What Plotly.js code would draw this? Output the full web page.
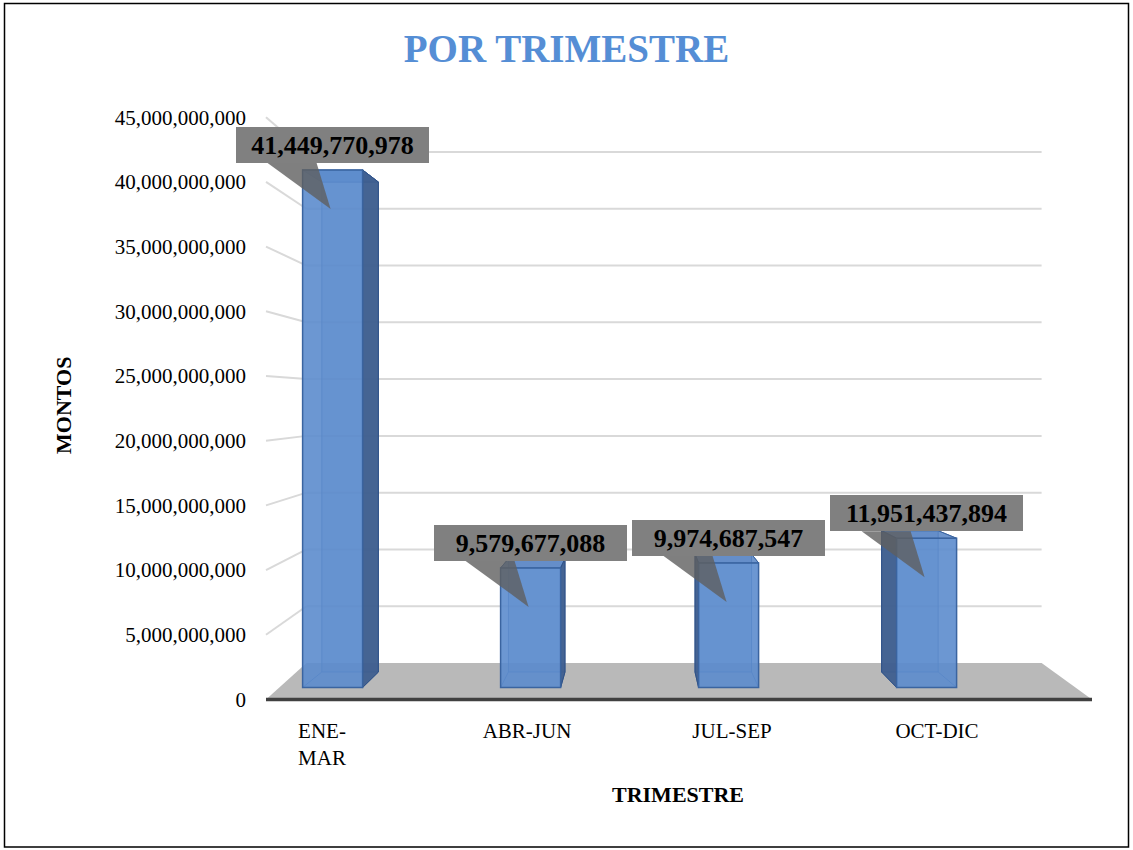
<!DOCTYPE html>
<html>
<head>
<meta charset="utf-8">
<script src="https://cdn.plot.ly/plotly-3.0.1.min.js"></script>
<style>html,body{margin:0;padding:0;background:#fff;}#chart{width:1133px;height:850px;}</style>
</head>
<body>
<div id="chart"></div>
<script>
// ---- data ----
const categories = ['ENE-MAR', 'ABR-JUN', 'JUL-SEP', 'OCT-DIC'];
const tickLabels = ['ENE-<br>MAR', 'ABR-JUN', 'JUL-SEP', 'OCT-DIC'];
const montos = [41449770978, 9579677088, 9974687547, 11951437894];
const yTickVals = [0, 5e9, 10e9, 15e9, 20e9, 25e9, 30e9, 35e9, 40e9, 45e9];
const chartTitle = 'POR TRIMESTRE';
const xTitle = 'TRIMESTRE';
const yTitle = 'MONTOS';

// ---- 3D-look layout planes (pixel placement of each depth plane) ----
const W = 1133, H = 850;
const PLANES = {
  front:    {x0: 322,   kx: 205,    y0: 699.5, ky: 12.94e-9},
  barFront: {x0: 332.6, kx: 198,    y0: 687.5, ky: 12.485e-9},
  barBack:  {x0: 350.1, kx: 186.6,  y0: 672,   ky: 11.82e-9},
  wall:     {x0: 356.3, kx: 182.45, y0: 663,   ky: 11.356e-9}
};
const WIN = {L: 200, R: 1110, T: 90, B: 720};
const WIN2 = {L: 200, R: 1110, T: 90, B: 716};
function ranges(P, w) {
  return {x: [(w.L - P.x0) / P.kx, (w.R - P.x0) / P.kx],
          y: [(P.y0 - w.B) / P.ky, (P.y0 - w.T) / P.ky],
          dx: [w.L / W, w.R / W], dy: [1 - w.B / H, 1 - w.T / H]};
}
function pix(P, c, v) { return [P.x0 + P.kx * c, P.y0 - P.ky * v]; }
function toXY(p) { const B = PLANES.barFront; return [(p[0] - B.x0) / B.kx, (B.y0 - p[1]) / B.ky]; }
function pt(P, c, v) { return toXY(pix(P, c, v)); }
function path(pts) { return 'M ' + pts.map(p => p[0] + ',' + p[1]).join(' L ') + ' Z'; }

const r1 = ranges(PLANES.barFront, WIN);
const r2 = ranges(PLANES.front, WIN2);

const shapes = [];
const cL = (266 - PLANES.front.x0) / PLANES.front.kx;
const cR = (1092 - PLANES.front.x0) / PLANES.front.kx;
// floor
shapes.push({type: 'path', xref: 'x', yref: 'y', layer: 'below',
  path: path([pt(PLANES.front, cL, 0), pt(PLANES.front, cR, 0), pt(PLANES.wall, cR, 0), pt(PLANES.wall, cL, 0)]),
  fillcolor: '#b9b9b9', line: {width: 0}});
// gridlines (wall + side)
yTickVals.filter(v => v > 0).forEach(v => {
  const a = pt(PLANES.front, cL, v), b = pt(PLANES.wall, cL, v), c = pt(PLANES.wall, cR, v);
  shapes.push({type: 'line', xref: 'x', yref: 'y', layer: 'below', x0: a[0], y0: a[1], x1: b[0], y1: b[1], line: {color: '#d9d9d9', width: 2}});
  shapes.push({type: 'line', xref: 'x', yref: 'y', layer: 'below', x0: b[0], y0: b[1], x1: c[0], y1: c[1], line: {color: '#d9d9d9', width: 2}});
});
// front floor edge
{
  const a = pt(PLANES.front, cL, 0), b = pt(PLANES.front, cR, 0);
  shapes.push({type: 'line', xref: 'x', yref: 'y', layer: 'below', x0: a[0], y0: a[1], x1: b[0], y1: b[1], line: {color: '#404040', width: 3.5}});
}
// bar depth faces
const hw = 0.1515;
montos.forEach((v, i) => {
  const F = PLANES.barFront, Bk = PLANES.barBack;
  const fbl = pt(F, i - hw, 0), fbr = pt(F, i + hw, 0), ftl = pt(F, i - hw, v), ftr = pt(F, i + hw, v);
  const bbl = pt(Bk, i - hw, 0), bbr = pt(Bk, i + hw, 0), btl = pt(Bk, i - hw, v), btr = pt(Bk, i + hw, v);
  shapes.push({type: 'path', xref: 'x', yref: 'y', layer: 'below', path: path([bbl, bbr, btr, btl]),
    fillcolor: 'rgba(80,125,185,0.35)', line: {color: 'rgba(45,85,145,0.8)', width: 1}});
  [[fbl, bbl], [fbr, bbr], [ftl, btl], [ftr, btr]].forEach(e => {
    shapes.push({type: 'line', xref: 'x', yref: 'y', layer: 'below', x0: e[0][0], y0: e[0][1], x1: e[1][0], y1: e[1][1],
      line: {color: 'rgba(45,85,145,0.8)', width: 1}});
  });
  shapes.push({type: 'path', xref: 'x', yref: 'y', layer: 'below', path: path([ftl, ftr, btr, btl]),
    fillcolor: 'rgba(85,130,195,0.85)', line: {color: '#3a64a0', width: 1}});
  if (btr[0] > ftr[0]) {
    shapes.push({type: 'path', xref: 'x', yref: 'y', layer: 'below', path: path([ftr, btr, bbr, fbr]),
      fillcolor: 'rgba(62,94,142,0.95)', line: {color: '#2f5288', width: 1}});
  }
  if (btl[0] < ftl[0]) {
    shapes.push({type: 'path', xref: 'x', yref: 'y', layer: 'below', path: path([ftl, btl, bbl, fbl]),
      fillcolor: 'rgba(62,94,142,0.95)', line: {color: '#2f5288', width: 1}});
  }
});
// callout wedges
const kyB = PLANES.barFront.ky, kxB = PLANES.barFront.kx;
const calloutColor = 'rgba(95,95,95,0.8)';
montos.forEach((v, i) => {
  const baseY = v + 7 / kyB;
  shapes.push({type: 'path', xref: 'x', yref: 'y', layer: 'above',
    path: path([[i - 65 / kxB, baseY], [i - 16 / kxB, baseY], [i - 2 / kxB, v - 39 / kyB]]),
    fillcolor: calloutColor, line: {width: 0}});
});
// outer border
shapes.push({type: 'rect', xref: 'paper', yref: 'paper', x0: 4.5 / W, x1: 1128.5 / W, y0: 1 - 847 / H, y1: 1 - 3.5 / H,
  line: {color: '#000', width: 1.5}, layer: 'above'});

const annotations = montos.map((v, i) => ({
  xref: 'x', yref: 'y', x: i, y: v, yanchor: 'bottom', xanchor: 'center', yshift: 7,
  text: '<b>' + v.toLocaleString('en-US') + '</b>', showarrow: false,
  bgcolor: 'rgba(128,128,128,1)', borderwidth: 0, borderpad: 2, width: 189, height: 32,
  font: {family: 'Liberation Serif', size: 26, color: '#000'}
}));
annotations.push({xref: 'paper', yref: 'paper', x: 63 / W, y: 1 - 406 / H, xanchor: 'center', yanchor: 'middle',
  textangle: -90, showarrow: false,
  text: '<b>' + yTitle + '</b>', font: {family: 'Liberation Serif', size: 22, color: '#000'}});
annotations.push({xref: 'paper', yref: 'paper', x: 678 / W, y: 1 - 794 / H, xanchor: 'center', yanchor: 'middle',
  showarrow: false,
  text: '<b>' + xTitle + '</b>', font: {family: 'Liberation Serif', size: 22, color: '#000'}});

const traces = [
  {type: 'bar', x: [0, 1, 2, 3], y: montos, width: 2 * hw, name: 'Montos',
   marker: {color: 'rgba(92,140,205,0.9)', line: {color: '#3a64a0', width: 1.5}},
   hovertext: categories, hoverinfo: 'text+y', xaxis: 'x', yaxis: 'y'},
  {type: 'scatter', mode: 'markers', x: [0], y: [0], marker: {opacity: 0}, hoverinfo: 'skip',
   showlegend: false, xaxis: 'x2', yaxis: 'y2'}
];

const layout = {
  width: W, height: H, autosize: false, showlegend: false,
  margin: {l: 0, r: 0, t: 0, b: 0, pad: 0},
  paper_bgcolor: '#fff', plot_bgcolor: 'rgba(0,0,0,0)',
  title: {text: '<b>' + chartTitle + '</b>', x: 0.5, xref: 'container', y: 1 - 48 / H, yref: 'container',
    xanchor: 'center', yanchor: 'middle', font: {family: 'Liberation Serif', size: 39, color: '#558ed5'}},
  xaxis: {domain: r1.dx, range: r1.x, showgrid: false, zeroline: false, showticklabels: false, showline: false, fixedrange: true},
  yaxis: {domain: r1.dy, range: r1.y, showgrid: false, zeroline: false, showticklabels: false, showline: false, fixedrange: true},
  xaxis2: {domain: r2.dx, range: r2.x, anchor: 'y2', showgrid: false, zeroline: false, showline: false, ticks: '',
    tickmode: 'array', tickvals: [0, 1, 2, 3], ticktext: tickLabels,
    tickfont: {family: 'Liberation Serif', size: 21, color: '#000'}, fixedrange: true},
  yaxis2: {domain: r2.dy, range: r2.y, anchor: 'free', position: 246 / W, showgrid: false, zeroline: false,
    showline: false, ticks: '', tickmode: 'array', tickvals: yTickVals, tickformat: ',.0f',
    tickfont: {family: 'Liberation Serif', size: 21, color: '#000'}, fixedrange: true},
  shapes: shapes, annotations: annotations
};

Plotly.newPlot('chart', traces, layout, {displayModeBar: false, staticPlot: true});
</script>
</body>
</html>
